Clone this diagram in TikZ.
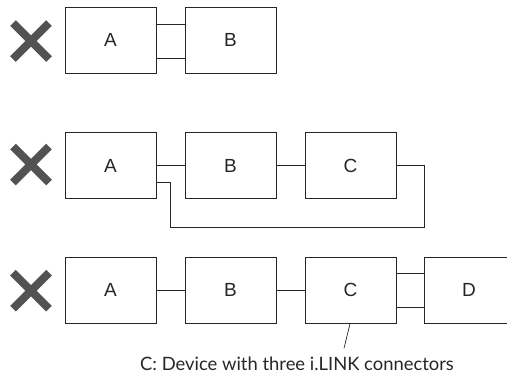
\documentclass[tikz,border=0pt]{standalone}
\usepackage{fontspec}
\setmainfont{Liberation Sans}
\newfontfamily\capfont{Lato}
\begin{document}
\begin{tikzpicture}[x=1pt,y=-1pt,
  dev/.style={draw=black!85,line width=0.9pt,minimum width=91pt,minimum height=66pt,inner sep=0pt,font=\fontsize{19}{21}\selectfont,text=black!85},
  wire/.style={draw=black!85,line width=0.9pt},
  nogo/.style={draw=black!68,line width=8pt}]
\useasboundingbox (0,0) rectangle (507,381);
\clip (0,0) rectangle (507,381);
% row 1
\node[dev] (a1) at (110.5,40) {A};
\node[dev] (b1) at (230.5,40) {B};
\draw[wire] ([yshift=16pt]a1.east) -- ([yshift=16pt]b1.west);
\draw[wire] ([yshift=-18pt]a1.east) -- ([yshift=-18pt]b1.west);
\draw[nogo] (13,23) -- (49,59) (13,59) -- (49,23);
% row 2
\node[dev] (a2) at (110.5,165.5) {A};
\node[dev] (b2) at (230.5,165.5) {B};
\node[dev] (c2) at (350.5,165.5) {C};
\draw[wire] (a2.east) -- (b2.west);
\draw[wire] (b2.east) -- (c2.west);
\coordinate (l1) at (170,182.3);
\coordinate (l2) at (424.3,227.7);
\draw[wire] ([yshift=-16.8pt]a2.east) -- (l1) -- (l1 |- l2) -- (l2) |- (c2.east);
\draw[nogo] (13,146.5) -- (49,182.5) (13,182.5) -- (49,146.5);
% row 3
\node[dev] (a3) at (110.5,290.3) {A};
\node[dev] (b3) at (230.5,290.3) {B};
\node[dev] (c3) at (350.5,290.3) {C};
\node[dev,minimum width=100pt] (d3) at (474.3,290.3) {};
\node[font=\fontsize{19}{21}\selectfont,text=black!85] (dl) at (469,290.3) {D};
\draw[wire] (a3.east) -- (b3.west);
\draw[wire] (b3.east) -- (c3.west);
\draw[wire] ([yshift=16.6pt]c3.east) -- ([yshift=16.6pt]d3.west);
\draw[wire] ([yshift=-16.7pt]c3.east) -- ([yshift=-16.7pt]d3.west);
\draw[nogo] (13,272.7) -- (49,308.7) (13,308.7) -- (49,272.7);
% caption
\node[font=\capfont\fontsize{18.4}{20}\selectfont,text=black!85,inner sep=0pt] (cap) at (297,364) {C: Device with three i.LINK connectors};
\coordinate (lead) at (344,348.3);
\draw[wire,line width=0.7pt] ([xshift=-0.5pt]c3.south) -- (lead);
\end{tikzpicture}
\end{document}
